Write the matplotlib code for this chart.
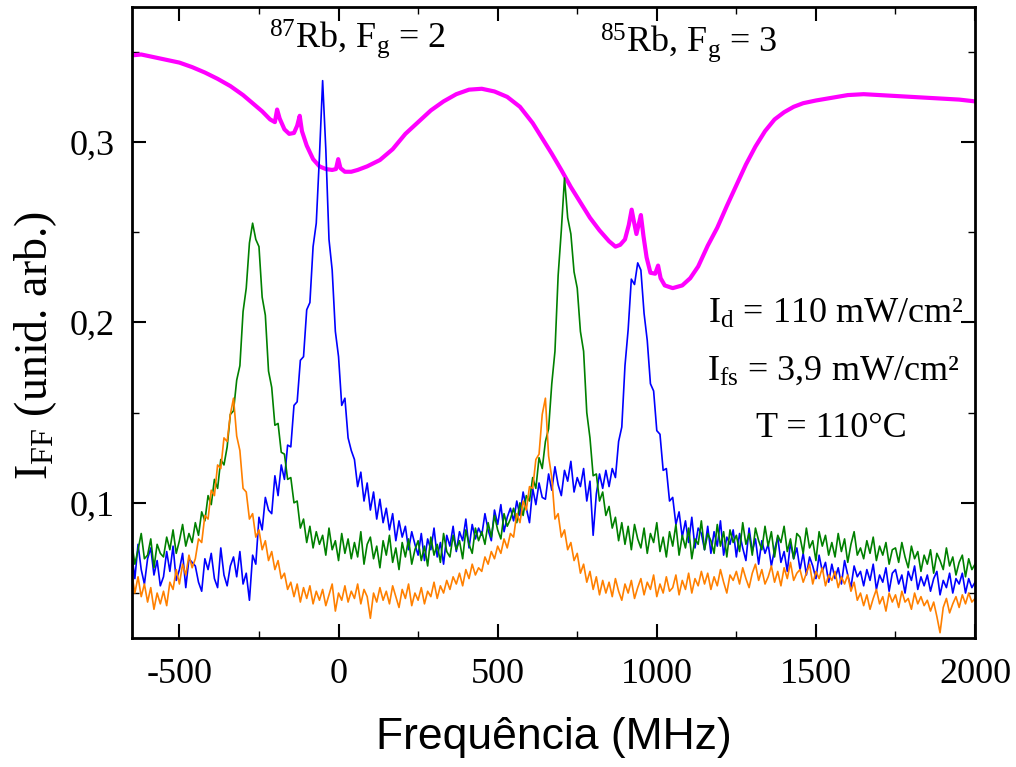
import numpy as np
import matplotlib
matplotlib.use("Agg")
import matplotlib.pyplot as plt
from matplotlib.ticker import MultipleLocator, FuncFormatter

plt.rcParams['font.family'] = ['Liberation Serif', 'DejaVu Serif']
plt.rcParams['mathtext.fontset'] = 'custom'
plt.rcParams['mathtext.rm'] = 'Liberation Serif'
plt.rcParams['mathtext.it'] = 'Liberation Serif:italic'
plt.rcParams['axes.unicode_minus'] = False

# absorption reference (magenta), read at irregular points
abs_freq = [-650, -620, -580, -540, -500, -460, -420, -380, -340, -300, -270, -240, -215, -200,
            -193, -185, -170, -155, -140, -130, -122, -115, -100, -80, -60, -40, -20, -8, -1, 6,
            20, 40, 60, 90, 130, 170, 210, 250, 290, 330, 370, 410, 450, 490, 530, 570, 610,
            640, 670, 700, 730, 760, 790, 820, 850, 870, 885, 900, 912, 921, 928, 936, 944, 950,
            958, 968, 980, 995, 1004, 1012, 1025, 1050, 1080, 1105, 1130, 1160, 1190, 1220, 1250,
            1280, 1310, 1340, 1370, 1400, 1430, 1460, 1500, 1550, 1600, 1650, 1700, 1750, 1800,
            1850, 1900, 1950, 2000]
abs_signal = [0.348, 0.3485, 0.347, 0.3455, 0.344, 0.3415, 0.3385, 0.335, 0.331, 0.326, 0.3215,
              0.317, 0.3125, 0.311, 0.318, 0.313, 0.307, 0.3045, 0.305, 0.309, 0.3145, 0.306,
              0.298, 0.2905, 0.2865, 0.285, 0.2845, 0.285, 0.2905, 0.2855, 0.2835, 0.2835, 0.2845,
              0.2865, 0.290, 0.296, 0.3045, 0.311, 0.3175, 0.3225, 0.3265, 0.329, 0.3295, 0.328,
              0.325, 0.3195, 0.3105, 0.302, 0.2935, 0.2845, 0.275, 0.2665, 0.258, 0.251, 0.245,
              0.242, 0.243, 0.246, 0.254, 0.2625, 0.256, 0.249, 0.255, 0.2595, 0.248, 0.236,
              0.2275, 0.227, 0.2315, 0.2245, 0.2205, 0.219, 0.2205, 0.2245, 0.231, 0.2425, 0.2525,
              0.2645, 0.276, 0.2875, 0.2975, 0.306, 0.3125, 0.3165, 0.3195, 0.3215, 0.323, 0.3245,
              0.326, 0.3265, 0.326, 0.3255, 0.325, 0.3245, 0.324, 0.3235, 0.3225]

# fluorescence spectra sampled every 10 MHz from -650 MHz
blue = [
    0.072, 0.058, 0.077, 0.063, 0.055, 0.069, 0.075, 0.060, 0.068, 0.054,
    0.059, 0.073, 0.062, 0.076, 0.057, 0.063, 0.072, 0.053, 0.069, 0.067,
    0.065, 0.056, 0.051, 0.069, 0.063, 0.072, 0.058, 0.053, 0.075, 0.060,
    0.054, 0.065, 0.070, 0.059, 0.073, 0.055, 0.061, 0.046, 0.071, 0.066,
    0.092, 0.085, 0.103, 0.096, 0.094, 0.115, 0.104, 0.121, 0.113, 0.132,
    0.131, 0.154, 0.156, 0.179, 0.181, 0.207, 0.211, 0.242, 0.255, 0.292,
    0.334, 0.296, 0.246, 0.229, 0.195, 0.181, 0.154, 0.158, 0.136, 0.129,
    0.124, 0.109, 0.117, 0.101, 0.111, 0.096, 0.106, 0.091, 0.102, 0.089,
    0.097, 0.085, 0.094, 0.079, 0.090, 0.081, 0.087, 0.074, 0.084, 0.077,
    0.071, 0.083, 0.068, 0.080, 0.074, 0.086, 0.070, 0.078, 0.066, 0.082,
    0.076, 0.087, 0.073, 0.084, 0.079, 0.091, 0.075, 0.088, 0.080, 0.086,
    0.082, 0.094, 0.085, 0.079, 0.096, 0.088, 0.099, 0.084, 0.092, 0.097,
    0.090, 0.101, 0.093, 0.106, 0.097, 0.089, 0.108, 0.099, 0.111, 0.103,
    0.102, 0.116, 0.107, 0.120, 0.110, 0.104, 0.118, 0.112, 0.123, 0.106,
    0.114, 0.109, 0.119, 0.101, 0.112, 0.082, 0.105, 0.116, 0.108, 0.118,
    0.109, 0.119, 0.114, 0.134, 0.142, 0.176, 0.196, 0.224, 0.221, 0.233,
    0.229, 0.205, 0.190, 0.166, 0.162, 0.140, 0.138, 0.118, 0.119, 0.101,
    0.103, 0.088, 0.095, 0.081, 0.090, 0.078, 0.092, 0.075, 0.086, 0.083,
    0.074, 0.087, 0.072, 0.084, 0.076, 0.090, 0.071, 0.081, 0.077, 0.085,
    0.070, 0.083, 0.075, 0.068, 0.086, 0.073, 0.080, 0.066, 0.079, 0.072,
    0.077, 0.065, 0.074, 0.081, 0.067, 0.073, 0.062, 0.078, 0.069, 0.075,
    0.063, 0.072, 0.060, 0.070, 0.065, 0.058, 0.071, 0.062, 0.067, 0.056,
    0.066, 0.058, 0.064, 0.055, 0.068, 0.060, 0.053, 0.065, 0.059, 0.062,
    0.054, 0.063, 0.057, 0.066, 0.052, 0.060, 0.056, 0.064, 0.051, 0.061,
    0.063, 0.055, 0.060, 0.050, 0.062, 0.057, 0.065, 0.052, 0.059, 0.054,
    0.060, 0.051, 0.058, 0.062, 0.049, 0.057, 0.053, 0.061, 0.050, 0.058,
    0.055, 0.061, 0.050, 0.058, 0.053, 0.056]

green = [
    0.078, 0.066, 0.074, 0.083, 0.069, 0.071, 0.080, 0.064, 0.077, 0.072,
    0.070, 0.081, 0.074, 0.085, 0.072, 0.079, 0.088, 0.076, 0.083, 0.078,
    0.089, 0.082, 0.095, 0.090, 0.104, 0.099, 0.113, 0.108, 0.124, 0.121,
    0.131, 0.149, 0.151, 0.168, 0.176, 0.206, 0.219, 0.244, 0.255, 0.246,
    0.242, 0.214, 0.204, 0.173, 0.164, 0.143, 0.144, 0.128, 0.127, 0.113,
    0.114, 0.100, 0.101, 0.086, 0.091, 0.078, 0.087, 0.075, 0.084, 0.077,
    0.082, 0.071, 0.086, 0.074, 0.079, 0.068, 0.083, 0.072, 0.080, 0.069,
    0.078, 0.070, 0.084, 0.066, 0.077, 0.081, 0.069, 0.076, 0.064, 0.079,
    0.071, 0.082, 0.067, 0.075, 0.063, 0.078, 0.070, 0.080, 0.066, 0.074,
    0.079, 0.068, 0.076, 0.065, 0.081, 0.071, 0.077, 0.067, 0.083, 0.073,
    0.070, 0.082, 0.074, 0.079, 0.069, 0.085, 0.077, 0.072, 0.086, 0.079,
    0.084, 0.077, 0.089, 0.081, 0.093, 0.085, 0.080, 0.094, 0.087, 0.091,
    0.097, 0.089, 0.100, 0.093, 0.104, 0.101, 0.114, 0.108, 0.125, 0.119,
    0.134, 0.141, 0.166, 0.184, 0.226, 0.251, 0.280, 0.258, 0.249, 0.228,
    0.219, 0.195, 0.184, 0.150, 0.136, 0.115, 0.116, 0.101, 0.106, 0.093,
    0.098, 0.086, 0.092, 0.079, 0.089, 0.077, 0.087, 0.074, 0.088, 0.080,
    0.075, 0.086, 0.072, 0.083, 0.078, 0.089, 0.073, 0.081, 0.070, 0.084,
    0.076, 0.088, 0.071, 0.082, 0.075, 0.086, 0.069, 0.080, 0.077, 0.090,
    0.074, 0.083, 0.079, 0.072, 0.088, 0.076, 0.084, 0.070, 0.085, 0.078,
    0.082, 0.073, 0.089, 0.077, 0.083, 0.071, 0.086, 0.079, 0.074, 0.087,
    0.076, 0.084, 0.070, 0.082, 0.078, 0.087, 0.073, 0.080, 0.069, 0.083,
    0.081, 0.072, 0.086, 0.075, 0.079, 0.068, 0.084, 0.076, 0.082, 0.071,
    0.078, 0.070, 0.083, 0.073, 0.080, 0.067, 0.077, 0.084, 0.071, 0.075,
    0.069, 0.079, 0.072, 0.081, 0.068, 0.076, 0.071, 0.078, 0.066, 0.074,
    0.075, 0.067, 0.078, 0.070, 0.064, 0.076, 0.069, 0.073, 0.062, 0.071,
    0.066, 0.074, 0.061, 0.072, 0.068, 0.063, 0.075, 0.065, 0.070, 0.060,
    0.067, 0.071, 0.059, 0.069, 0.063, 0.066]

orange = [
    0.061, 0.050, 0.059, 0.048, 0.055, 0.045, 0.053, 0.041, 0.050, 0.044,
    0.051, 0.043, 0.056, 0.052, 0.063, 0.055, 0.066, 0.060, 0.071, 0.064,
    0.069, 0.080, 0.078, 0.093, 0.091, 0.107, 0.104, 0.121, 0.119, 0.136,
    0.134, 0.149, 0.158, 0.137, 0.129, 0.108, 0.106, 0.091, 0.094, 0.081,
    0.085, 0.074, 0.079, 0.068, 0.073, 0.063, 0.068, 0.058, 0.061, 0.052,
    0.056, 0.048, 0.055, 0.045, 0.053, 0.047, 0.054, 0.044, 0.051, 0.046,
    0.052, 0.043, 0.049, 0.055, 0.040, 0.050, 0.046, 0.054, 0.045, 0.051,
    0.047, 0.055, 0.044, 0.052, 0.048, 0.036, 0.050, 0.045, 0.053, 0.046,
    0.051, 0.044, 0.054, 0.048, 0.042, 0.052, 0.047, 0.055, 0.043, 0.050,
    0.046, 0.053, 0.044, 0.051, 0.048, 0.056, 0.047, 0.054, 0.050, 0.057,
    0.052, 0.059, 0.055, 0.061, 0.054, 0.063, 0.058, 0.066, 0.060, 0.064,
    0.062, 0.070, 0.066, 0.073, 0.069, 0.076, 0.072, 0.080, 0.075, 0.083,
    0.081, 0.094, 0.089, 0.101, 0.096, 0.109, 0.108, 0.124, 0.127, 0.149,
    0.158, 0.126, 0.114, 0.091, 0.094, 0.081, 0.085, 0.074, 0.078, 0.068,
    0.072, 0.061, 0.066, 0.056, 0.062, 0.052, 0.059, 0.049, 0.057, 0.050,
    0.056, 0.048, 0.058, 0.051, 0.046, 0.055, 0.050, 0.057, 0.047, 0.053,
    0.058, 0.049, 0.056, 0.052, 0.060, 0.048, 0.055, 0.050, 0.059, 0.051,
    0.053, 0.060, 0.049, 0.057, 0.052, 0.061, 0.050, 0.058, 0.054, 0.062,
    0.055, 0.061, 0.052, 0.059, 0.054, 0.063, 0.056, 0.050, 0.060, 0.057,
    0.062, 0.055, 0.064, 0.058, 0.053, 0.061, 0.066, 0.057, 0.063, 0.055,
    0.059, 0.065, 0.056, 0.062, 0.054, 0.064, 0.058, 0.067, 0.057, 0.061,
    0.063, 0.056, 0.061, 0.066, 0.055, 0.062, 0.058, 0.064, 0.054, 0.060,
    0.057, 0.062, 0.053, 0.059, 0.055, 0.060, 0.051, 0.056, 0.046, 0.050,
    0.043, 0.049, 0.041, 0.047, 0.052, 0.044, 0.048, 0.040, 0.050, 0.045,
    0.049, 0.042, 0.051, 0.045, 0.047, 0.041, 0.050, 0.044, 0.048, 0.043,
    0.046, 0.040, 0.045, 0.037, 0.028, 0.042, 0.047, 0.039, 0.044, 0.048,
    0.042, 0.049, 0.044, 0.050, 0.045, 0.047]


def freq_axis(values):
    return -650 + 10 * np.arange(len(values))


fig = plt.figure(figsize=(10.16, 7.67), dpi=100)
ax = fig.add_axes([0.1296, 0.168, 0.8301, 0.8233])

ax.plot(abs_freq, abs_signal, color='#ff00ff', lw=3.0)
ax.plot(freq_axis(blue), blue, color='#0000ff', lw=1.2)
ax.plot(freq_axis(green), green, color='#008000', lw=1.2)
ax.plot(freq_axis(orange), orange, color='#ff8000', lw=1.2)

ax.set_xlim(-650, 2000)
ax.set_ylim(0.025, 0.375)
ax.xaxis.set_major_locator(MultipleLocator(500))
ax.xaxis.set_minor_locator(MultipleLocator(250))
ax.yaxis.set_major_locator(MultipleLocator(0.1))
ax.yaxis.set_minor_locator(MultipleLocator(0.05))
ax.yaxis.set_major_formatter(FuncFormatter(lambda v, p: f'{v:.1f}'.replace('.', ',')))

ax.tick_params(which='both', direction='in', top=True, right=True, labelsize=26)
ax.tick_params(which='major', length=10, width=1.5)
ax.tick_params(which='minor', length=5, width=1.0)
ax.tick_params(axis='x', pad=14)
ax.tick_params(axis='y', pad=12)
for s in ax.spines.values():
    s.set_linewidth(2)

ax.text(60, 0.352, r'$^{87}$Rb, F$_{\rm g}$ = 2', fontsize=26, ha='center', va='baseline')
ax.text(1100, 0.350, r'$^{85}$Rb, F$_{\rm g}$ = 3', fontsize=26, ha='center', va='baseline')
ax.text(1562, 0.1998, r'I$_{\rm d}$ = 110 mW/cm²', fontsize=26, ha='center', va='baseline')
ax.text(1555, 0.1682, r'I$_{\rm fs}$ = 3,9 mW/cm²', fontsize=26, ha='center', va='baseline')
ax.text(1550, 0.1364, 'T = 110°C', fontsize=26, ha='center', va='baseline')

fig.text(0.035, 0.55, r'I$_{\rm FF}$ (unid. arb.)', fontsize=33, rotation=90,
         ha='center', va='center')
fig.text(0.545, 0.038, 'Frequência (MHz)', fontsize=32, family='Liberation Sans',
         ha='center', va='center')

fig.savefig('out.png', dpi=100)
